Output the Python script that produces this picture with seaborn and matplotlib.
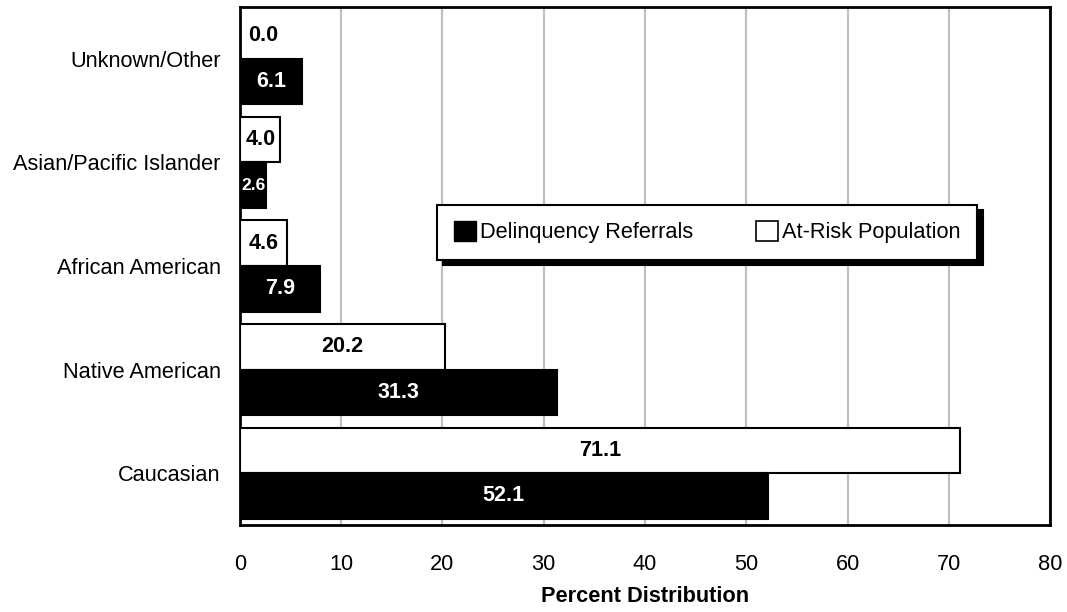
import matplotlib
matplotlib.use("Agg")
import matplotlib.pyplot as plt
from matplotlib.patches import Patch
from matplotlib.ticker import FixedLocator
import seaborn as sns
import pandas as pd

# Data: percent distribution by race/ethnicity
categories = ["Unknown/Other", "Asian/Pacific Islander", "African American",
              "Native American", "Caucasian"]
delinquency_referrals = [6.1, 2.6, 7.9, 31.3, 52.1]
at_risk_population = [0.0, 4.0, 4.6, 20.2, 71.1]
series_names = ["Delinquency Referrals", "At-Risk Population"]
x_ticks = [0, 10, 20, 30, 40, 50, 60, 70, 80]

df = pd.DataFrame({
    "category": categories * 2,
    "value": at_risk_population + delinquency_referrals,
    "series": [series_names[1]] * len(categories) + [series_names[0]] * len(categories),
})

sns.set_style("white")
plt.rcParams["font.family"] = ["Liberation Sans", "DejaVu Sans"]
plt.rcParams["text.color"] = "black"
plt.rcParams["axes.labelcolor"] = "black"
plt.rcParams["xtick.color"] = "black"
plt.rcParams["ytick.color"] = "black"

FS = 15.7

fig = plt.figure(figsize=(10.67, 6.12), dpi=100)
ax = fig.add_axes([0.2249, 0.1422, 0.7592, 0.8464])

palette = {series_names[0]: "black", series_names[1]: "white"}
sns.barplot(data=df, y="category", x="value", hue="series",
            order=categories, hue_order=[series_names[1], series_names[0]],
            palette=palette, saturation=1, edgecolor="black", linewidth=1.5,
            width=0.88, orient="h", legend=False, ax=ax, zorder=3)

ax.set_xlim(0, 80)
ax.set_xticks(x_ticks)
ax.xaxis.grid(True, color="#c0c0c0", linewidth=1.6)
ax.yaxis.grid(False)
ax.set_axisbelow(True)

for s in ax.spines.values():
    s.set_color("black")
    s.set_linewidth(2)

# Category labels at band centres, tick marks at band edges
ax.tick_params(axis="y", which="major", length=0, pad=14, labelsize=FS, labelcolor="black")
ax.yaxis.set_minor_locator(FixedLocator([i - 0.5 for i in range(len(categories) + 1)]))
ax.tick_params(axis="y", which="minor", length=8, width=2, color="black", direction="out")
ax.tick_params(axis="x", which="major", length=8, width=2, color="black",
               direction="out", pad=13, labelsize=FS, labelcolor="black")
ax.set_ylabel("")
ax.set_xlabel("Percent Distribution", fontsize=FS, fontweight="bold", labelpad=8,
              color="black")

# Value labels inside the bars; a zero-width bar gets its label just right of the axis
for container, color in zip(ax.containers, ["black", "white"]):
    for patch in container:
        w = patch.get_width()
        y = patch.get_y() + patch.get_height() / 2
        xpos = w / 2 if w > 0 else 2.3
        size = 12.5 if 0 < w < 3 else 15.5
        ax.text(xpos, y, f"{w:.1f}", ha="center", va="center", color=color,
                fontsize=size, fontweight="bold", zorder=4)

handles = [Patch(facecolor="black", edgecolor="black", label=series_names[0]),
           Patch(facecolor="white", edgecolor="black", linewidth=1.2, label=series_names[1])]
leg = ax.legend(handles=handles, loc="center", bbox_to_anchor=(0.577, 0.565), ncol=2,
                fontsize=FS, frameon=True, fancybox=False, framealpha=1,
                edgecolor="black", handlelength=1.0, handleheight=1.0,
                handletextpad=0.2, columnspacing=2.9, borderpad=0.75,
                shadow={"ox": 4, "oy": -4, "color": "black", "alpha": 1})
leg.get_frame().set_linewidth(1.5)
leg.set_zorder(6)

fig.savefig("out.png", dpi=100)
